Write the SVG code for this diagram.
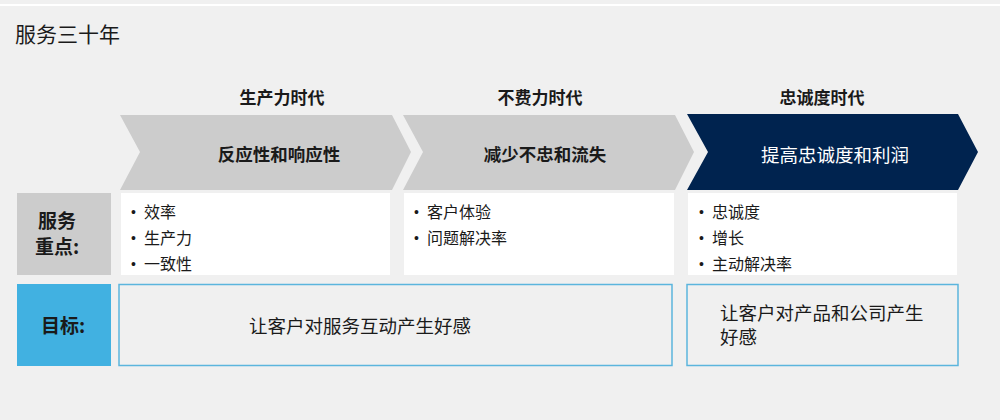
<svg xmlns="http://www.w3.org/2000/svg" width="1000" height="420" viewBox="0 0 1000 420">
<style>
text{font-family:"Noto Sans CJK SC","Liberation Sans",sans-serif;fill:#1a1a1a}
.b{font-weight:bold}
.era{font-size:17px;font-weight:bold;text-anchor:middle}
.chev{font-size:17.5px;text-anchor:middle}
.bul{font-size:16px}
.dot{font-size:14px;font-family:"Liberation Sans",sans-serif}
.lab{font-size:19px;font-weight:bold;text-anchor:middle}
.goal{font-size:18.5px}
.wbox{fill:#ffffff}
.gbox{fill:#f0f0f0;stroke:#5bb5dd;stroke-width:1.5}
</style>
<rect width="1000" height="420" fill="#f0f0f0"/>
<line x1="0" y1="5" x2="1000" y2="5" stroke="#ffffff" stroke-width="2"/>
<text x="15" y="42" style="font-size:21px">服务三十年</text>

<g id="era1">
<text class="era" x="282" y="104">生产力时代</text>
<polygon points="120,115 392,115 411,152 392,190 120,190 140,152" fill="#cccccc"/>
<text class="chev b" x="279" y="161">反应性和响应性</text>
</g>
<g id="era2">
<text class="era" x="540" y="104">不费力时代</text>
<polygon points="403,115 675,115 694,152 675,190 403,190 423,152" fill="#cccccc"/>
<text class="chev b" x="545" y="161">减少不忠和流失</text>
</g>
<g id="era3">
<text class="era" x="822" y="104">忠诚度时代</text>
<polygon points="687,114 958,114 978,152 958,190 687,190 708,152" fill="#00234f"/>
<text class="chev" x="835" y="162" style="fill:#ffffff;font-size:18.5px">提高忠诚度和利润</text>
</g>

<g id="label-focus">
<rect x="17" y="193" width="94" height="82" fill="#cccccc"/>
<text class="lab" x="57" y="228">服务</text>
<text class="lab" x="57" y="254">重点:</text>
</g>
<g id="focus1">
<rect class="wbox" x="121" y="193" width="269" height="82"/>
<text class="dot" x="131" y="217">•</text><text class="bul" x="144" y="218">效率</text>
<text class="dot" x="131" y="243">•</text><text class="bul" x="144" y="244">生产力</text>
<text class="dot" x="131" y="269">•</text><text class="bul" x="144" y="270">一致性</text>
</g>
<g id="focus2">
<rect class="wbox" x="404" y="193" width="270" height="82"/>
<text class="dot" x="414" y="217">•</text><text class="bul" x="427" y="218">客户体验</text>
<text class="dot" x="414" y="243">•</text><text class="bul" x="427" y="244">问题解决率</text>
</g>
<g id="focus3">
<rect class="wbox" x="688" y="193" width="269" height="82"/>
<text class="dot" x="699" y="217">•</text><text class="bul" x="712" y="218">忠诚度</text>
<text class="dot" x="699" y="243">•</text><text class="bul" x="712" y="244">增长</text>
<text class="dot" x="699" y="269">•</text><text class="bul" x="712" y="270">主动解决率</text>
</g>

<g id="label-goal">
<rect x="17" y="284" width="94" height="82" fill="#41b1e1"/>
<text class="lab" x="63" y="333">目标:</text>
</g>
<g id="goal1">
<rect class="gbox" x="119" y="284.5" width="553" height="81"/>
<text class="goal" x="249" y="333">让客户对服务互动产生好感</text>
</g>
<g id="goal2">
<rect class="gbox" x="687" y="284.5" width="271" height="81"/>
<text class="goal" x="720" y="320">让客户对产品和公司产生</text>
<text class="goal" x="720" y="344">好感</text>
</g>
<g id="connectors"/>
</svg>
